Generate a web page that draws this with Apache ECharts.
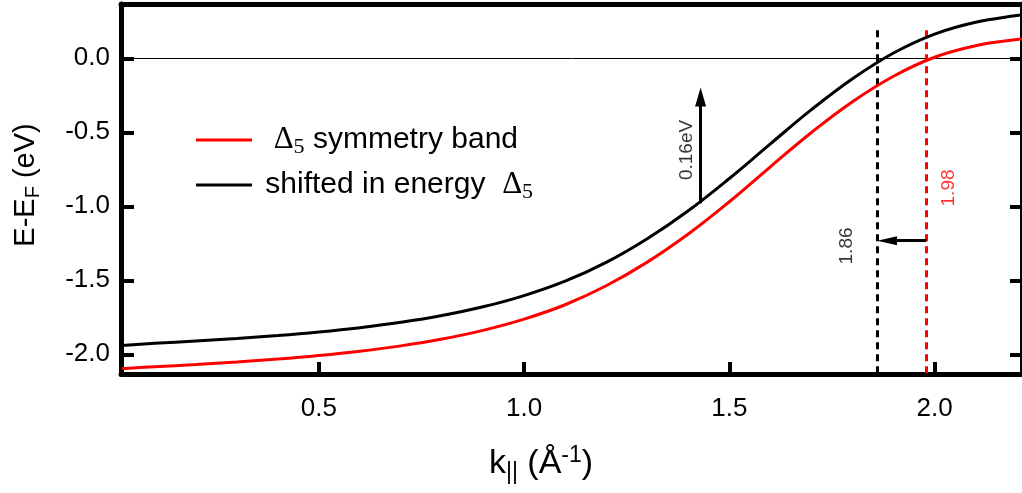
<!DOCTYPE html>
<html>
<head>
<meta charset="utf-8">
<script src="https://cdn.jsdelivr.net/npm/echarts@6/dist/echarts.min.js"></script>
<style>
  html, body { margin: 0; padding: 0; background: #fff; }
  #chart { width: 1022px; height: 493px; }
</style>
</head>
<body>
<div id="chart"></div>
<script>
// Band dispersion E(k) along k|| for the Δ5 band and its copy shifted up in energy
const kValues = [0.02, 0.1, 0.2, 0.3, 0.4, 0.5, 0.6, 0.7, 0.8, 0.9, 1.0, 1.1, 1.2, 1.3, 1.4,
                 1.5, 1.6, 1.7, 1.8, 1.9, 2.0, 2.1, 2.2, 2.213];
const deltaBand = [-2.097, -2.084, -2.069, -2.052, -2.032, -2.008, -1.979, -1.943, -1.897, -1.838,
                   -1.762, -1.665, -1.537, -1.377, -1.187, -0.969, -0.733, -0.501, -0.293, -0.121,
                   0.007, 0.085, 0.127, 0.130];
const shiftedBand = [-1.940, -1.926, -1.910, -1.893, -1.873, -1.849, -1.820, -1.784, -1.738, -1.679,
                     -1.603, -1.506, -1.379, -1.219, -1.030, -0.812, -0.578, -0.347, -0.138, 0.036,
                     0.164, 0.244, 0.289, 0.292];
const seriesNames = ['Δ5 symmetry band', 'shifted in energy Δ5'];
const seriesColors = ['#ff0000', '#000000'];

// axis ticks
const xTicks = [0.5, 1.0, 1.5, 2.0];
const yTicks = [-2.0, -1.5, -1.0, -0.5, 0.0];
const xRange = [0.018, 2.213];
const yRange = [-2.133, 0.367];

// Fermi-level crossings (k values) and the energy shift between the two bands
const crossingDelta = 1.98;
const crossingShifted = 1.86;
const crossingTopE = 0.19;
const energyShift = 0.16;
const shiftArrowK = 1.43;
const shiftArrowE = [-0.98, -0.197];   // from the shifted band up to the arrow tip
const crossingArrowE = -1.232;         // height of the arrow between the two crossings

// plot area in pixels
const grid = { left: 121, top: 4, width: 904, height: 370 };
const pxPerK = grid.width / (xRange[1] - xRange[0]);
const pxPerE = grid.height / (yRange[1] - yRange[0]);
const headV = [11, 19];
const headH = [9, 20];

const font = 'Liberation Sans';
const serif = 'Liberation Serif';

const pair = (ys) => kValues.map((k, i) => [k, ys[i]]);
const fmt1 = (v) => v.toFixed(1);

const chart = echarts.init(document.getElementById('chart'), null, { renderer: 'canvas' });

const legendText = {
  [seriesNames[0]]: '  {d|Δ}{s|5} symmetry band',
  [seriesNames[1]]: ' shifted in energy  {d|Δ}{s|5}'
};

const option = {
  animation: false,
  backgroundColor: '#fff',
  grid: { left: grid.left, top: grid.top, width: grid.width, height: grid.height, containLabel: false },
  legend: {
    data: seriesNames,
    orient: 'vertical',
    left: 191,
    top: 117,
    icon: 'rect',
    itemWidth: 56,
    itemHeight: 3,
    itemGap: 9,
    selectedMode: false,
    formatter: (name) => legendText[name],
    textStyle: {
      fontFamily: font, fontSize: 30, color: '#000', lineHeight: 36,
      rich: {
        d: { fontFamily: serif, fontSize: 31, color: '#000', lineHeight: 36 },
        s: { fontFamily: serif, fontSize: 22, color: '#000', lineHeight: 22, verticalAlign: 'bottom' }
      }
    }
  },
  xAxis: [{
    type: 'value', min: xRange[0], max: xRange[1], position: 'bottom',
    axisLine: { show: true, onZero: false, lineStyle: { color: '#000', width: 5 } },
    axisTick: { show: true, inside: true, length: 12, customValues: xTicks, lineStyle: { color: '#000', width: 4 } },
    axisLabel: { show: true, customValues: xTicks, formatter: fmt1, margin: 22,
                 fontFamily: font, fontSize: 26, color: '#000' },
    splitLine: { show: false }
  }, {
    type: 'value', min: xRange[0], max: xRange[1], position: 'top',
    axisLine: { show: true, onZero: false, lineStyle: { color: '#000', width: 5 } },
    axisTick: { show: false }, axisLabel: { show: false }, splitLine: { show: false }
  }],
  yAxis: [{
    type: 'value', min: yRange[0], max: yRange[1], position: 'left',
    axisLine: { show: true, onZero: false, lineStyle: { color: '#000', width: 5 } },
    axisTick: { show: true, inside: true, length: 13, customValues: yTicks, lineStyle: { color: '#000', width: 4 } },
    axisLabel: { show: true, customValues: yTicks, formatter: fmt1, margin: 11,
                 fontFamily: font, fontSize: 26, color: '#000' },
    splitLine: { show: false }
  }, {
    type: 'value', min: yRange[0], max: yRange[1], position: 'right',
    axisLine: { show: true, onZero: false, lineStyle: { color: '#000', width: 5 } },
    axisTick: { show: true, inside: true, length: 12, customValues: yTicks, lineStyle: { color: '#000', width: 4 } },
    axisLabel: { show: false }, splitLine: { show: false }
  }],
  series: [
    {
      name: seriesNames[0], type: 'line', data: pair(deltaBand), smooth: 0.4,
      showSymbol: false, symbol: 'none', color: seriesColors[0],
      lineStyle: { color: seriesColors[0], width: 3 }, z: 5
    },
    {
      name: seriesNames[1], type: 'line', data: pair(shiftedBand), smooth: 0.4,
      showSymbol: false, symbol: 'none', color: seriesColors[1],
      lineStyle: { color: seriesColors[1], width: 3 }, z: 6,
      markLine: {
        silent: true, symbol: 'none', animation: false,
        label: { show: false },
        lineStyle: { color: '#000', width: 1, type: 'solid' },
        data: [{ yAxis: 0 }]
      }
    },
    {
      // dashed markers at the Fermi crossings and the arrows between them
      name: 'markers', type: 'line', data: [], symbol: 'none', z: 7,
      markLine: {
        silent: true, animation: false,
        symbol: 'none',
        label: { show: false },
        emphasis: { disabled: true },
        data: [
          [{ coord: [crossingShifted, crossingTopE], lineStyle: { color: '#000', width: 3, type: [7, 5] } },
           { coord: [crossingShifted, yRange[0]] }],
          [{ coord: [crossingDelta, crossingTopE], lineStyle: { color: '#ff0000', width: 3, type: [7, 5] } },
           { coord: [crossingDelta, yRange[0]] }],
          [{ coord: [shiftArrowK, shiftArrowE[0]], lineStyle: { color: '#000', width: 3, type: 'solid' } },
           { coord: [shiftArrowK, shiftArrowE[1] - headV[1] / 2 / pxPerE], symbol: 'triangle', symbolSize: headV,
             itemStyle: { color: '#000' } }],
          [{ coord: [crossingDelta, crossingArrowE], lineStyle: { color: '#000', width: 3, type: 'solid' } },
           { coord: [crossingShifted + headH[1] / 2 / pxPerK, crossingArrowE], symbol: 'triangle', symbolSize: headH,
             itemStyle: { color: '#000' } }]
        ]
      }
    },
    {
      // rotated value labels (offset is in the rotated frame: second entry moves sideways)
      name: 'labels', type: 'scatter', symbolSize: 0, z: 8, silent: true,
      data: [
        { value: [crossingDelta, -0.876], text: crossingDelta.toFixed(2), color: '#ff0000', dx: 22 },
        { value: [crossingShifted, -1.268], text: crossingShifted.toFixed(2), color: '#000', dx: -30 },
        { value: [shiftArrowK, -0.619], text: energyShift.toFixed(2) + 'eV', color: '#000', dx: -14 }
      ].map(d => ({
        value: d.value,
        label: { show: true, formatter: d.text, color: d.color, rotate: 90, position: 'inside',
                 offset: [0, d.dx], fontFamily: font, fontSize: 19, align: 'center', verticalAlign: 'middle' }
      }))
    }
  ],
  graphic: [
    {
      type: 'text', x: 26, y: 185, rotation: Math.PI / 2, silent: true,
      style: {
        text: 'E-E{s|F} (eV)', fill: '#000', fontFamily: font, fontSize: 29, lineHeight: 34,
        align: 'center', verticalAlign: 'middle',
        rich: {
          s: { fontFamily: font, fontSize: 20, lineHeight: 20, verticalAlign: 'bottom', fill: '#000' }
        }
      }
    },
    {
      type: 'text', x: 541, y: 464, silent: true,
      style: {
        text: 'k{s|||} (Å{p|-1})', fill: '#000', fontFamily: font, fontSize: 34, lineHeight: 40,
        align: 'center', verticalAlign: 'middle',
        rich: {
          s: { fontFamily: font, fontSize: 23, lineHeight: 23, verticalAlign: 'bottom', fill: '#000' },
          p: { fontFamily: font, fontSize: 23, lineHeight: 23, verticalAlign: 'top', fill: '#000' }
        }
      }
    }
  ]
};

chart.setOption(option);
</script>
</body>
</html>
